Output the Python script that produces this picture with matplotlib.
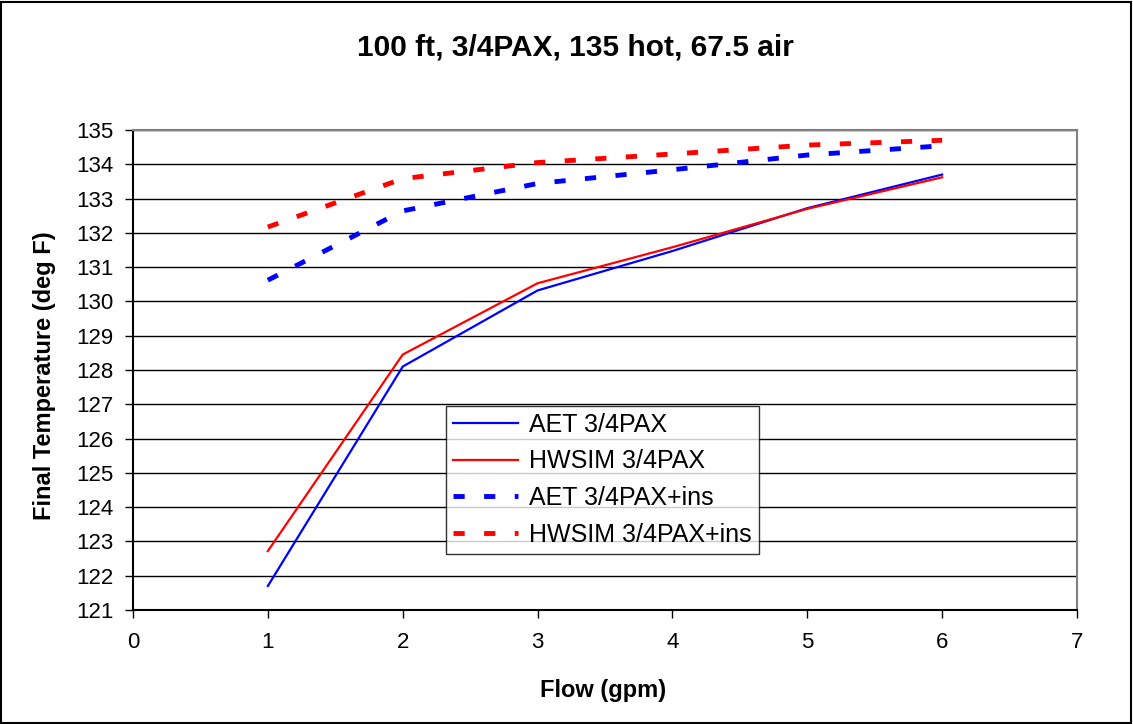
import matplotlib
matplotlib.use("Agg")
import matplotlib.pyplot as plt
from matplotlib.patches import Rectangle

plt.rcParams['font.family'] = ['Liberation Sans', 'DejaVu Sans']

flow = [1, 2, 3, 4, 5, 6]
aet = [121.70, 128.10, 130.32, 131.47, 132.72, 133.70]
hwsim = [122.72, 128.45, 130.53, 131.58, 132.70, 133.62]
aet_ins = [130.62, 132.64, 133.44, 133.84, 134.27, 134.54]
hwsim_ins = [132.17, 133.58, 134.05, 134.30, 134.56, 134.70]

title = "100 ft, 3/4PAX, 135 hot, 67.5 air"
xlabel = "Flow (gpm)"
ylabel = "Final Temperature (deg F)"
labels = ["AET 3/4PAX", "HWSIM 3/4PAX", "AET 3/4PAX+ins", "HWSIM 3/4PAX+ins"]

W, H = 1133, 724
fig = plt.figure(figsize=(W / 100, H / 100), dpi=100)
ax = fig.add_axes([133 / W, 1 - 610 / H, (1077 - 133) / W, (610 - 130) / H])

# outer frame around the whole figure
fig.patches.append(Rectangle((1 / W, 1 / H), 1 - 3 / W, 1 - 3 / H, transform=fig.transFigure,
                             fill=False, edgecolor='black', linewidth=1.5))

dash = (0, (2.3, 4.0))
ax.plot(flow, aet, color='#0000ff', lw=1.6, label=labels[0], zorder=3)
ax.plot(flow, hwsim, color='#ff0000', lw=1.6, label=labels[1], zorder=3)
ax.plot(flow, aet_ins, color='#0000ff', lw=3.5, ls=dash, label=labels[2], zorder=3)
ax.plot(flow, hwsim_ins, color='#ff0000', lw=3.5, ls=dash, label=labels[3], zorder=3)

ax.set_xlim(0, 7)
ax.set_ylim(121, 135)
ax.set_xticks(range(0, 8))
ax.set_yticks(range(121, 136))
ax.yaxis.grid(True, color='black', lw=1)
ax.set_axisbelow(True)

for side in ['top', 'right']:
    ax.spines[side].set_color('#808080')
    ax.spines[side].set_linewidth(1.5)
for side in ['left', 'bottom']:
    ax.spines[side].set_color('black')
    ax.spines[side].set_linewidth(1.5)

ax.tick_params(axis='both', direction='out', length=6, width=1, labelsize=16, colors='black')
ax.tick_params(axis='y', pad=8)
ax.tick_params(axis='x', pad=10)

fig.text(603 / W, 1 - 690 / H, xlabel, ha='center', va='center', fontsize=17, fontweight='bold')
fig.text(45 / W, 1 - 376 / H, ylabel, ha='center', va='center', fontsize=17,
         fontweight='bold', rotation=90)
fig.text(575 / W, 1 - 47 / H, title, ha='center', va='center',
         fontsize=21.5, fontweight='bold')

leg = ax.legend(loc='upper left', bbox_to_anchor=((446 - 133) / (1077 - 133), (610 - 406) / 480),
                fontsize=18, frameon=True, fancybox=False, borderaxespad=0,
                handlelength=2.6, handletextpad=0.45, labelspacing=0.5, borderpad=0.28)
leg.get_frame().set_edgecolor('black')
leg.get_frame().set_linewidth(1)

fig.savefig('out.png', dpi=100)
